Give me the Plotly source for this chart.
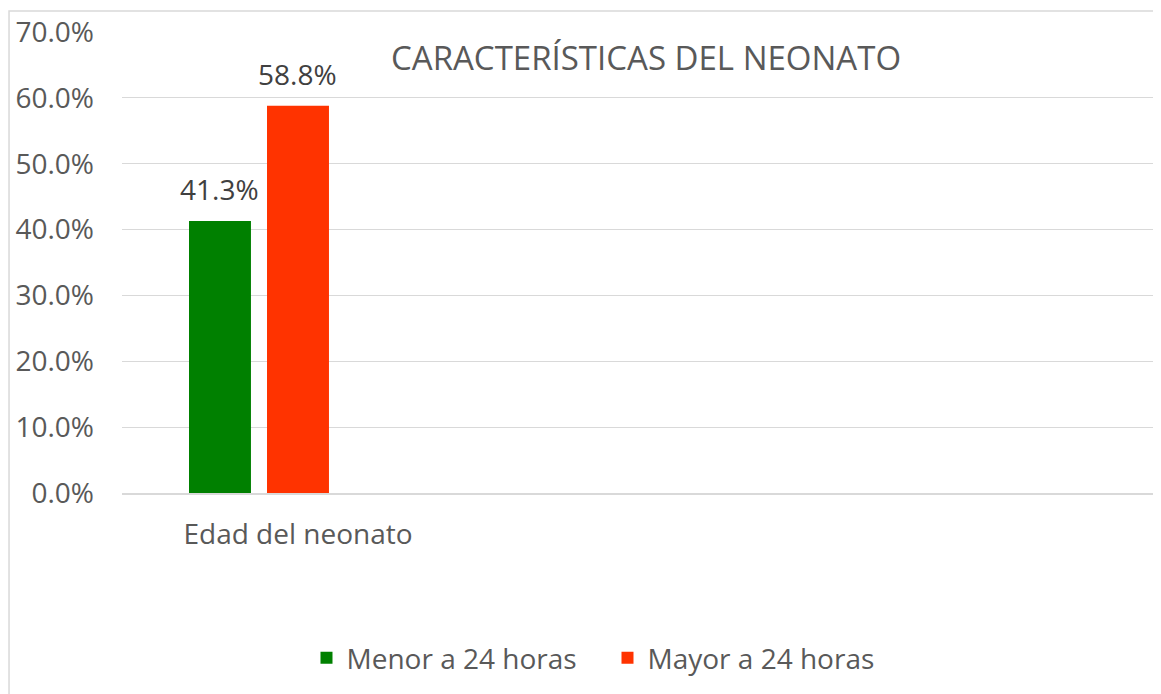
import plotly.graph_objects as go

categories = ["Edad del neonato"]
series_names = ["Menor a 24 horas", "Mayor a 24 horas"]
menor_values = [0.413]
mayor_values = [0.588]
y_ticks = [0, 0.1, 0.2, 0.3, 0.4, 0.5, 0.6, 0.7]

colors = ["#008000", "#FF3300"]
FONT = "Open Sans"
TXT = "#595959"
GRID = "#D9D9D9"
FS = 28
BAR_W = 0.176
OFFSETS = [-0.3097, -0.0881]

fig = go.Figure()
for name, vals, col, off in zip(series_names, [menor_values, mayor_values], colors, OFFSETS):
    fig.add_trace(go.Bar(
        x=categories, y=vals, name=name,
        marker=dict(color=col, line=dict(width=0)),
        width=BAR_W, offset=off,
    ))
    for i, v in enumerate(vals):
        fig.add_annotation(
            x=i + off + BAR_W / 2, y=v, xref="x", yref="y",
            text=f"{v*100:.1f}%", showarrow=False,
            yanchor="bottom", yshift=11,
            font=dict(family=FONT, size=FS, color="#404040"),
        )

fig.update_layout(
    width=1161, height=694,
    margin=dict(l=114, r=0, t=24, b=209),
    paper_bgcolor="white", plot_bgcolor="white",
    barmode="overlay",
    font=dict(family=FONT, size=FS, color=TXT),
    title=dict(text="CARACTERÍSTICAS DEL NEONATO", x=0.5005, xref="paper",
               xanchor="center", y=1 - 50 / 694, yref="container", yanchor="middle",
               font=dict(family=FONT, size=33, color=TXT)),
    showlegend=True,
    legend=dict(orientation="h", x=0.4637, xanchor="center", y=-0.358, yanchor="middle",
                entrywidth=256, entrywidthmode="pixels",
                font=dict(family=FONT, size=FS, color=TXT), bgcolor="rgba(0,0,0,0)"),
    xaxis=dict(type="category", range=[-0.5, 2.474], showgrid=False,
               showline=True, linecolor=GRID, linewidth=1.5,
               ticks="", ticklabelstandoff=16,
               tickfont=dict(family=FONT, size=FS, color=TXT)),
    yaxis=dict(range=[0, 0.7], tickvals=y_ticks, tickformat=".1%",
               showgrid=True, gridcolor=GRID, gridwidth=1.3,
               zeroline=False, showline=False, ticks="", ticklabelstandoff=27,
               tickfont=dict(family=FONT, size=FS, color=TXT)),
    shapes=[dict(type="path", xref="paper", yref="paper",
                 path="M -0.1079,-0.6 L -0.1079,1.0456 L 1.05,1.0456",
                 line=dict(color=GRID, width=1.5))],
)

fig.write_html("out.html")
